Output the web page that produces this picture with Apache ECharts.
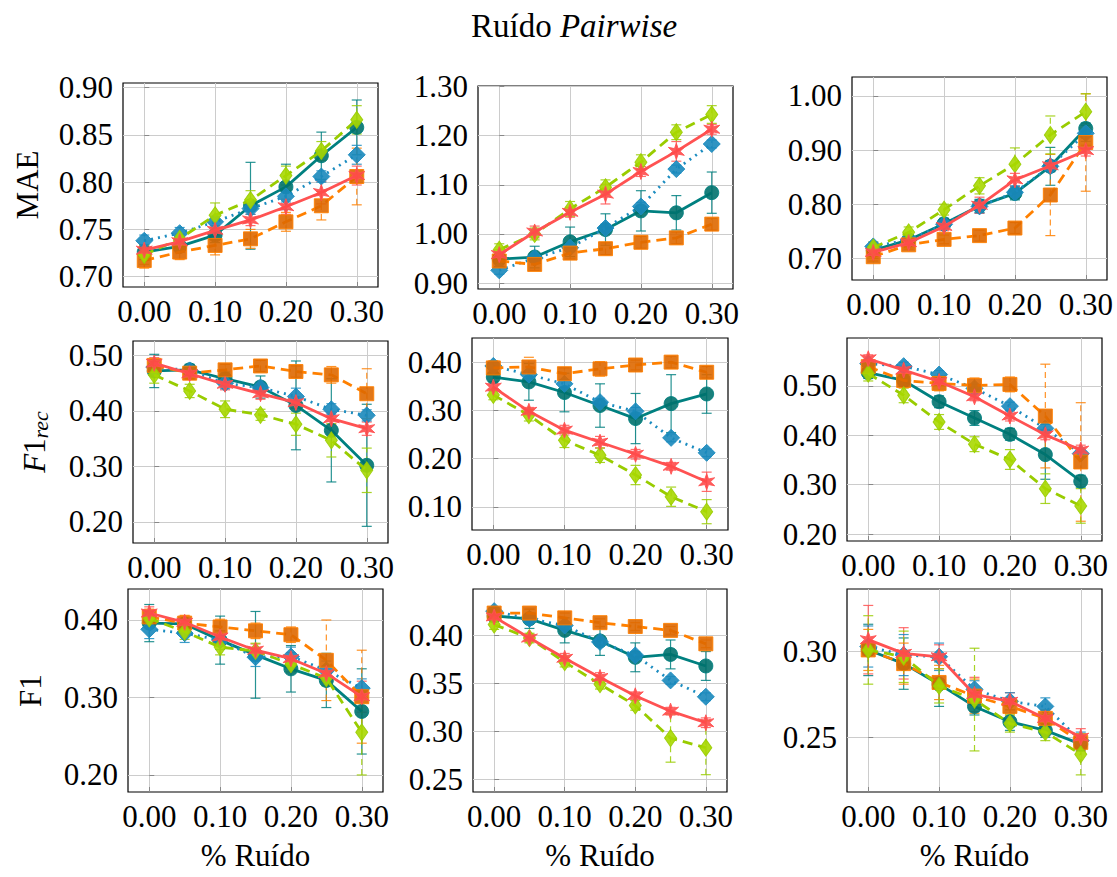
<!DOCTYPE html>
<html>
<head>
<meta charset="utf-8">
<script src="https://cdn.jsdelivr.net/npm/echarts@6/dist/echarts.min.js"></script>
<style>
  html, body { margin: 0; padding: 0; background: #fff; }
  #chart { width: 1117px; height: 877px; }
</style>
</head>
<body>
<div id="chart"></div>
<script>
  // eixo x: % de ruído
  const noise = [0.00, 0.05, 0.10, 0.15, 0.20, 0.25, 0.30]
  const xTicks = [0.00, 0.10, 0.20, 0.30]

  // ordem das linhas: teal, vermelho, azul, laranja, verde
  const seriesNames = ['A', 'B', 'C', 'D', 'E']

  // MAE
  const mae1 = [
    [0.726, 0.732, 0.744, 0.775, 0.795, 0.828, 0.858],
    [0.728, 0.737, 0.749, 0.760, 0.774, 0.789, 0.807],
    [0.738, 0.746, 0.758, 0.772, 0.785, 0.806, 0.829],
    [0.717, 0.726, 0.733, 0.740, 0.758, 0.775, 0.806],
    [0.723, 0.740, 0.765, 0.781, 0.807, 0.833, 0.866]
  ]
  const mae1Err = [
    [0.008, 0.006, 0.008, 0.046, 0.024, 0.025, 0.029],
    [0.005, 0.005, 0.005, 0.006, 0.008, 0.012, 0.010],
    [0.006, 0.006, 0.006, 0.006, 0.006, 0.006, 0.010],
    [0.008, 0.008, 0.010, 0.010, 0.010, 0.015, 0.030],
    [0.010, 0.005, 0.013, 0.010, 0.010, 0.010, 0.015]
  ]
  const mae2 = [
    [0.949, 0.953, 0.984, 1.009, 1.047, 1.043, 1.084],
    [0.958, 1.004, 1.044, 1.081, 1.127, 1.168, 1.213],
    [0.926, 0.951, 0.972, 1.012, 1.056, 1.132, 1.183],
    [0.945, 0.938, 0.961, 0.970, 0.983, 0.992, 1.020],
    [0.968, 1.000, 1.051, 1.095, 1.146, 1.207, 1.243]
  ]
  const mae2Err = [
    [0.010, 0.022, 0.030, 0.032, 0.041, 0.035, 0.042],
    [0.010, 0.012, 0.010, 0.020, 0.010, 0.020, 0.010],
    [0.008, 0.008, 0.008, 0.008, 0.008, 0.008, 0.008],
    [0.012, 0.012, 0.012, 0.012, 0.012, 0.012, 0.012],
    [0.012, 0.012, 0.015, 0.015, 0.015, 0.015, 0.018]
  ]
  const mae3 = [
    [0.715, 0.734, 0.764, 0.797, 0.820, 0.870, 0.940],
    [0.711, 0.729, 0.759, 0.798, 0.845, 0.871, 0.899],
    [0.722, 0.734, 0.763, 0.796, 0.822, 0.870, 0.931],
    [0.703, 0.725, 0.735, 0.742, 0.756, 0.817, 0.914],
    [0.720, 0.748, 0.790, 0.834, 0.874, 0.928, 0.971]
  ]
  const mae3Err = [
    [0.008, 0.010, 0.010, 0.012, 0.012, 0.035, 0.010],
    [0.008, 0.008, 0.008, 0.015, 0.012, 0.010, 0.010],
    [0.008, 0.008, 0.008, 0.012, 0.012, 0.010, 0.015],
    [0.008, 0.008, 0.008, 0.010, 0.010, 0.075, 0.090],
    [0.010, 0.010, 0.010, 0.015, 0.030, 0.035, 0.033]
  ]

  // F1 rec
  const rec1 = [
    [0.472, 0.474, 0.458, 0.443, 0.410, 0.365, 0.302],
    [0.486, 0.467, 0.448, 0.431, 0.415, 0.386, 0.368],
    [0.479, 0.473, 0.450, 0.442, 0.426, 0.403, 0.392],
    [0.482, 0.468, 0.474, 0.481, 0.471, 0.465, 0.431],
    [0.465, 0.436, 0.403, 0.393, 0.376, 0.347, 0.293]
  ]
  const rec1Err = [
    [0.030, 0.010, 0.012, 0.020, 0.080, 0.093, 0.110],
    [0.010, 0.010, 0.010, 0.010, 0.010, 0.010, 0.012],
    [0.010, 0.010, 0.010, 0.010, 0.015, 0.010, 0.010],
    [0.010, 0.010, 0.010, 0.010, 0.010, 0.015, 0.045],
    [0.015, 0.012, 0.015, 0.010, 0.020, 0.030, 0.040]
  ]
  const rec2 = [
    [0.369, 0.359, 0.337, 0.310, 0.283, 0.314, 0.334],
    [0.348, 0.298, 0.259, 0.234, 0.209, 0.184, 0.152],
    [0.392, 0.374, 0.355, 0.317, 0.298, 0.243, 0.212],
    [0.388, 0.390, 0.376, 0.386, 0.394, 0.400, 0.379],
    [0.332, 0.290, 0.238, 0.207, 0.166, 0.121, 0.090]
  ]
  const rec2Err = [
    [0.010, 0.038, 0.040, 0.045, 0.052, 0.060, 0.040],
    [0.008, 0.008, 0.010, 0.012, 0.010, 0.008, 0.020],
    [0.008, 0.008, 0.008, 0.008, 0.008, 0.008, 0.008],
    [0.015, 0.020, 0.012, 0.015, 0.010, 0.012, 0.012],
    [0.010, 0.012, 0.015, 0.015, 0.020, 0.020, 0.025]
  ]
  const rec3 = [
    [0.527, 0.511, 0.468, 0.435, 0.402, 0.361, 0.307],
    [0.555, 0.532, 0.509, 0.478, 0.439, 0.401, 0.370],
    [0.545, 0.540, 0.523, 0.495, 0.459, 0.414, 0.363],
    [0.539, 0.511, 0.505, 0.501, 0.503, 0.439, 0.346],
    [0.525, 0.481, 0.427, 0.382, 0.351, 0.292, 0.257]
  ]
  const rec3Err = [
    [0.012, 0.012, 0.012, 0.015, 0.012, 0.050, 0.012],
    [0.008, 0.008, 0.008, 0.008, 0.010, 0.010, 0.010],
    [0.008, 0.008, 0.008, 0.008, 0.008, 0.008, 0.008],
    [0.015, 0.015, 0.015, 0.015, 0.015, 0.105, 0.120],
    [0.015, 0.015, 0.015, 0.015, 0.020, 0.030, 0.035]
  ]

  // F1
  const f1a = [
    [0.396, 0.395, 0.374, 0.355, 0.337, 0.322, 0.282],
    [0.409, 0.397, 0.378, 0.361, 0.350, 0.331, 0.301],
    [0.388, 0.383, 0.374, 0.352, 0.353, 0.335, 0.312],
    [0.404, 0.396, 0.391, 0.386, 0.381, 0.348, 0.301],
    [0.402, 0.385, 0.365, 0.360, 0.343, 0.325, 0.255]
  ]
  const f1aErr = [
    [0.024, 0.005, 0.031, 0.056, 0.030, 0.035, 0.055],
    [0.008, 0.008, 0.008, 0.008, 0.008, 0.010, 0.020],
    [0.012, 0.012, 0.012, 0.012, 0.012, 0.012, 0.012],
    [0.010, 0.010, 0.010, 0.010, 0.010, 0.052, 0.060],
    [0.010, 0.010, 0.010, 0.010, 0.010, 0.010, 0.055]
  ]
  const f1b = [
    [0.420, 0.417, 0.405, 0.394, 0.377, 0.380, 0.368],
    [0.419, 0.397, 0.376, 0.356, 0.337, 0.321, 0.309],
    [0.425, 0.417, 0.410, 0.393, 0.379, 0.353, 0.336],
    [0.423, 0.423, 0.418, 0.413, 0.409, 0.405, 0.391],
    [0.411, 0.397, 0.372, 0.349, 0.327, 0.293, 0.283]
  ]
  const f1bErr = [
    [0.005, 0.010, 0.013, 0.015, 0.015, 0.015, 0.015],
    [0.004, 0.004, 0.005, 0.005, 0.004, 0.004, 0.005],
    [0.004, 0.004, 0.004, 0.004, 0.004, 0.004, 0.004],
    [0.004, 0.004, 0.005, 0.004, 0.004, 0.004, 0.004],
    [0.005, 0.005, 0.005, 0.005, 0.005, 0.025, 0.028]
  ]
  const f1c = [
    [0.301, 0.293, 0.281, 0.268, 0.259, 0.254, 0.246],
    [0.307, 0.299, 0.297, 0.275, 0.271, 0.261, 0.250],
    [0.303, 0.298, 0.297, 0.278, 0.271, 0.268, 0.248],
    [0.301, 0.293, 0.282, 0.274, 0.268, 0.261, 0.247],
    [0.301, 0.297, 0.280, 0.272, 0.258, 0.253, 0.240]
  ]
  const f1cErr = [
    [0.015, 0.015, 0.013, 0.005, 0.005, 0.004, 0.004],
    [0.020, 0.015, 0.007, 0.010, 0.005, 0.005, 0.005],
    [0.012, 0.012, 0.008, 0.005, 0.005, 0.005, 0.005],
    [0.012, 0.012, 0.010, 0.010, 0.005, 0.005, 0.005],
    [0.020, 0.015, 0.010, 0.030, 0.005, 0.005, 0.012]
  ]

  // marcas dos eixos y
  const maeTicks1 = [0.70, 0.75, 0.80, 0.85, 0.90]
  const maeTicks2 = [0.90, 1.00, 1.10, 1.20, 1.30]
  const maeTicks3 = [0.70, 0.80, 0.90, 1.00]
  const recTicks1 = [0.20, 0.30, 0.40, 0.50]
  const recTicks2 = [0.10, 0.20, 0.30, 0.40]
  const recTicks3 = [0.20, 0.30, 0.40, 0.50]
  const f1Ticks1 = [0.20, 0.30, 0.40]
  const f1Ticks2 = [0.25, 0.30, 0.35, 0.40]
  const f1Ticks3 = [0.25, 0.30]

  const FONT = 'Liberation Serif'
  const star = 'path://M50,0 L60,32.7 L93.3,25 L70,50 L93.3,75 L60,67.3 L50,100 L40,67.3 L6.7,75 L30,50 L6.7,25 L40,32.7 Z'

  const styles = [
    {color: '#008080', mark: '#00716d', symbol: 'circle', size: 14, dash: 'solid', z: 3},
    {color: '#ff5252', mark: '#ff4a4a', symbol: star, size: 16, dash: 'solid', z: 7},
    {color: '#1b8cc0', mark: '#1a88bb', symbol: 'diamond', size: 17, dash: [2, 5], z: 4},
    {color: '#ff8000', mark: '#de6800', symbol: 'rect', size: 14, dash: [10, 6], z: 5},
    {color: '#99cc00', mark: '#a8d800', symbol: 'diamond', size: [12, 17], dash: [10, 6], z: 6}
  ]

  // caixa de cada painel: [left, top, width, height] e limites do eixo y
  const panels = [
    {box: [123, 83, 255, 204], y: [0.689, 0.905], ticks: maeTicks1, vals: mae1, errs: mae1Err, name: 'MAE', gap: 80},
    {box: [478, 86, 255, 203], y: [0.888, 1.301], ticks: maeTicks2, vals: mae2, errs: mae2Err},
    {box: [852, 77, 255, 203], y: [0.660, 1.035], ticks: maeTicks3, vals: mae3, errs: mae3Err},
    {box: [133, 341, 255, 202], y: [0.162, 0.526], ticks: recTicks1, vals: rec1, errs: rec1Err, name: '{i|F}1{sub|rec}', gap: 82},
    {box: [472, 338, 256, 192], y: [0.052, 0.450], ticks: recTicks2, vals: rec2, errs: rec2Err},
    {box: [847, 338, 255, 203], y: [0.186, 0.597], ticks: recTicks3, vals: rec3, errs: rec3Err},
    {box: [128, 589, 255, 203], y: [0.178, 0.440], ticks: f1Ticks1, vals: f1a, errs: f1aErr, name: 'F1', gap: 82, xname: true},
    {box: [473, 589, 254, 203], y: [0.237, 0.448], ticks: f1Ticks2, vals: f1b, errs: f1bErr, xname: true},
    {box: [847, 589, 255, 203], y: [0.218, 0.3366], ticks: f1Ticks3, vals: f1c, errs: f1cErr, xname: true}
  ]

  const grids = [], xAxes = [], yAxes = [], series = []

  panels.forEach((p, k) => {
    grids.push({
      left: p.box[0], top: p.box[1], width: p.box[2], height: p.box[3],
      show: true, borderColor: '#000', borderWidth: 1.2, backgroundColor: 'transparent'
    })
    xAxes.push({
      type: 'value', gridIndex: k, min: -0.03, max: 0.33,
      axisLine: {show: false},
      axisTick: {show: true, inside: true, length: 5, customValues: xTicks, lineStyle: {color: '#888'}},
      axisLabel: {customValues: xTicks, formatter: v => v.toFixed(2), color: '#000', fontFamily: FONT, fontSize: 31, margin: 9},
      splitLine: {show: true, lineStyle: {color: '#cccccc', width: 1}},
      // título do eixo x só na última linha
      name: p.xname ? '% Ruído' : '', nameLocation: 'middle', nameGap: 48,
      nameTextStyle: {fontFamily: FONT, fontSize: 31, color: '#000'}
    })
    yAxes.push({
      type: 'value', gridIndex: k, min: p.y[0], max: p.y[1],
      axisLine: {show: false},
      axisTick: {show: true, inside: true, length: 5, customValues: p.ticks, lineStyle: {color: '#888'}},
      axisLabel: {customValues: p.ticks, formatter: v => v.toFixed(2), color: '#000', fontFamily: FONT, fontSize: 31, margin: 10},
      splitLine: {show: true, lineStyle: {color: '#cccccc', width: 1}},
      name: p.name || '', nameLocation: 'middle', nameRotate: 90, nameGap: p.gap || 80,
      nameTextStyle: {
        fontFamily: FONT, fontSize: 31, color: '#000',
        rich: {
          i: {fontFamily: FONT, fontSize: 31, fontStyle: 'italic', color: '#000'},
          sub: {fontFamily: FONT, fontSize: 22, fontStyle: 'italic', color: '#000', verticalAlign: 'bottom', padding: [12, 0, 0, 0]}
        }
      }
    })

    p.vals.forEach((vals, s) => {
      const st = styles[s]
      const errs = p.errs[s]
      // barras de erro
      series.push({
        type: 'custom', name: seriesNames[s], xAxisIndex: k, yAxisIndex: k, z: 2,
        data: noise.map((x, i) => [x, vals[i] - errs[i], vals[i] + errs[i]]),
        encode: {x: 0, y: [1, 2]},
        silent: true,
        renderItem: (params, api) => {
          const a = api.coord([api.value(0), api.value(1)])
          const b = api.coord([api.value(0), api.value(2)])
          const w = 5
          const dash = st.dash === 'solid' ? null : (s === 2 ? [2, 3] : [6, 4])
          return {
            type: 'group',
            children: [
              {type: 'line', shape: {x1: a[0], y1: a[1], x2: b[0], y2: b[1]}, style: {stroke: st.color, lineWidth: 1.2, lineDash: dash, opacity: 0.85}},
              {type: 'line', shape: {x1: a[0] - w, y1: a[1], x2: a[0] + w, y2: a[1]}, style: {stroke: st.color, lineWidth: 1.2, opacity: 0.85}},
              {type: 'line', shape: {x1: b[0] - w, y1: b[1], x2: b[0] + w, y2: b[1]}, style: {stroke: st.color, lineWidth: 1.2, opacity: 0.85}}
            ]
          }
        }
      })
      // linha + marcadores
      series.push({
        type: 'line', name: seriesNames[s], xAxisIndex: k, yAxisIndex: k, z: st.z,
        data: noise.map((x, i) => [x, vals[i]]),
        symbol: st.symbol, symbolSize: st.size, showSymbol: true,
        lineStyle: {color: st.color, width: 2.8, type: st.dash},
        itemStyle: {color: st.mark, borderColor: st.color, borderWidth: 1, opacity: 0.9},
        animation: false
      })
    })
  })

  const chart = echarts.init(document.getElementById('chart'), null, {renderer: 'svg'})
  chart.setOption({
    animation: false,
    backgroundColor: '#fff',
    textStyle: {fontFamily: FONT},
    title: {
      text: 'Ruído {i|Pairwise}', left: 466, top: 4,
      textStyle: {
        fontFamily: FONT, fontSize: 33, fontWeight: 'normal', color: '#000',
        rich: {i: {fontFamily: FONT, fontSize: 33, fontStyle: 'italic', color: '#000'}}
      }
    },
    grid: grids,
    xAxis: xAxes,
    yAxis: yAxes,
    series: series
  })
</script>
</body>
</html>
